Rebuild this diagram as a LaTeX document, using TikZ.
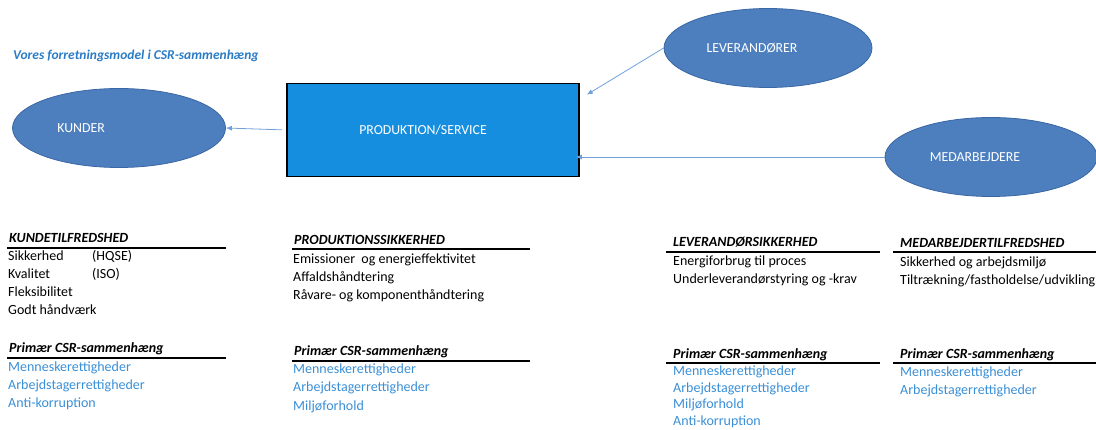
\documentclass[tikz,border=0pt]{standalone}
\usepackage{fontspec}
\setmainfont{Carlito}
\usetikzlibrary{arrows.meta,shapes.geometric}

\definecolor{boxblue}{HTML}{168EE0}
\definecolor{ellblue}{HTML}{4D7FBF}
\definecolor{ellline}{HTML}{3A66A3}
\definecolor{titleblue}{HTML}{2A7CC7}
\definecolor{csrblue}{HTML}{3A8FD6}
\definecolor{arrblue}{HTML}{6FA0DA}

\begin{document}
\begin{tikzpicture}[
    x = 1pt, y = -1pt, % pixel grid, y goes down
    > = {Latex[length=6pt,width=5pt]}, % arrow head style
    ell/.style = {ellipse, draw = ellline, fill = ellblue, line width = 0.8pt,
                  minimum width = 213pt, minimum height = 79pt, inner sep = 0pt},
    intxt/.style = {text = white, font = \fontsize{13.8}{15}\selectfont},
    arr/.style = {->, draw = arrblue, line width = 0.8pt},
    hdr/.style = {anchor = base west, inner sep = 0pt,
                  font = \fontsize{14}{18}\selectfont\bfseries\itshape},
    itm/.style = {anchor = base west, inner sep = 0pt,
                  font = \fontsize{14}{18}\selectfont},
    csr/.style = {itm, text = csrblue},
    rule/.style = {line width = 1.2pt}
    ]
    \useasboundingbox (0,0) rectangle (1096,430);

    % title
    \node[anchor = base west, inner sep = 0pt, text = titleblue,
          font = \fontsize{13.5}{16}\selectfont\bfseries\itshape] (title) at (13,60)
          {Vores forretningsmodel i CSR-sammenhæng};

    % model
    \node[draw = black, line width = 1.6pt, fill = boxblue, minimum width = 292pt,
          minimum height = 93pt, inner sep = 0pt,
          label = {[intxt, xshift = -10pt]center:PRODUKTION/SERVICE}] (prod) at (433,130) {};
    \node[ell, label = {[intxt, xshift = -38pt]center:KUNDER}] (kunder) at (119,128) {};
    \node[ell, minimum width = 208pt, label = {[intxt, xshift = -16pt]center:LEVERANDØRER}] (lev) at (768,48) {};
    \node[ell, minimum width = 212pt, label = {[intxt, xshift = -16pt]center:MEDARBEJDERE}] (med) at (991,157) {};

    \coordinate (levtip) at ([shift = {(7,12)}]prod.north east);
    \draw[arr, shorten < = 4pt] (prod.west) -- (kunder.east);
    \draw[arr] (lev.west) -- (levtip);
    \draw[arr, shorten > = -4pt] (med.west) -- (med.west -| prod.east);

    % KUNDETILFREDSHED
    \node[hdr] (kh) at (9,243) {KUNDETILFREDSHED};
    \draw[rule] (7,248) -- (226,248);
    \foreach \t [count = \i] in {{\makebox[84pt][l]{Sikkerhed}(HQSE)},
        {\makebox[84pt][l]{Kvalitet}(ISO)}, Fleksibilitet, Godt håndværk}
        \node[itm] (k\i) at (8,243+18*\i) {\t};
    \node[hdr] (kc) at (9,353) {Primær CSR-sammenhæng};
    \draw[rule] (7,358) -- (226,358);
    \foreach \t [count = \i] in {Menneskerettigheder, Arbejdstagerrettigheder, Anti-korruption}
        \node[csr] (kc\i) at (8,354+18*\i) {\t};

    % PRODUKTIONSSIKKERHED
    \node[hdr] (ph) at (294,245) {PRODUKTIONSSIKKERHED};
    \draw[rule] (292,249) -- (530,249);
    \foreach \t [count = \i] in {Emissioner\ \ og energieffektivitet, Affaldshåndtering,
        Råvare- og komponenthåndtering}
        \node[itm] (p\i) at (293,246+18*\i) {\t};
    \node[hdr] (pc) at (294,356) {Primær CSR-sammenhæng};
    \draw[rule] (292,361) -- (530,361);
    \foreach \t [count = \i] in {Menneskerettigheder, Arbejdstagerrettigheder, Miljøforhold}
        \node[csr] (pc\i) at (293,356+18*\i) {\t};

    % LEVERANDØRSIKKERHED
    \node[hdr] (lh) at (673,247) {LEVERANDØRSIKKERHED};
    \draw[rule] (666,252) -- (880,252);
    \foreach \t [count = \i] in {Energiforbrug til proces, Underleverandørstyring og -krav}
        \node[itm] (l\i) at (673,248+18*\i) {\t};
    \node[hdr] (lc) at (673,359) {Primær CSR-sammenhæng};
    \draw[rule] (666,363) -- (880,363);
    \foreach \t [count = \i] in {Menneskerettigheder, Arbejdstagerrettigheder, Miljøforhold,
        Anti-korruption}
        \node[csr] (lc\i) at (673,358.5+16.8*\i) {\t};

    % MEDARBEJDERTILFREDSHED
    \node[hdr] (mh) at (900,248) {MEDARBEJDERTILFREDSHED};
    \draw[rule] (893,252) -- (1096,252);
    \foreach \t [count = \i] in {Sikkerhed og arbejdsmiljø, Tiltrækning/fastholdelse/udvikling}
        \node[itm] (m\i) at (900,249+18*\i) {\t};
    \node[hdr] (mc) at (900,359) {Primær CSR-sammenhæng};
    \draw[rule] (893,363) -- (1096,363);
    \foreach \t [count = \i] in {Menneskerettigheder, Arbejdstagerrettigheder}
        \node[csr] (mc\i) at (900,359+18*\i) {\t};
\end{tikzpicture}
\end{document}
